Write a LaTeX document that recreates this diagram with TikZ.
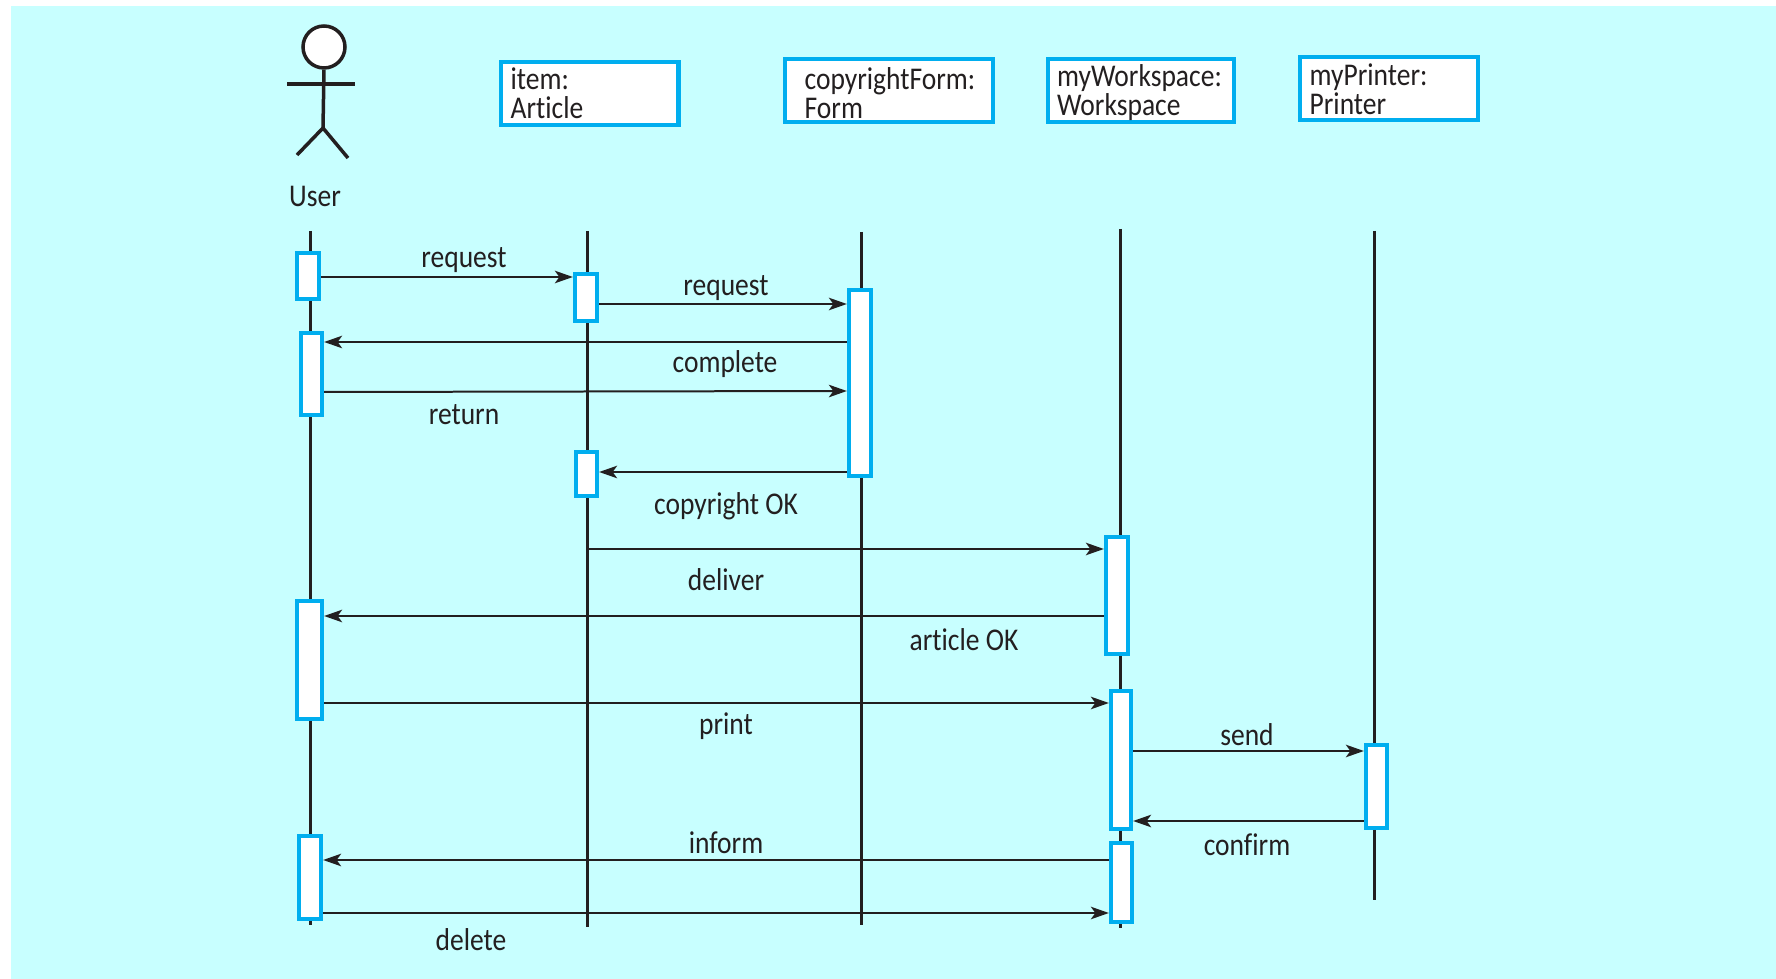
\documentclass[tikz,border=0pt]{standalone}
\usepackage{fontspec}
\setmainfont[FakeStretch=0.87,Ligatures=NoCommon]{Carlito}
\usepackage{xcolor}
\usetikzlibrary{arrows.meta}
\usetikzlibrary{fit}
\definecolor{panelcyan}{HTML}{C8FFFF}
\definecolor{boxblue}{HTML}{00AEEF}
\definecolor{inkblack}{HTML}{231F20}
\tikzset{
  objbox/.style={draw=boxblue,fill=white,line width=0.085cm,anchor=north west,align=left,inner ysep=0pt,minimum height=1.26cm,text=inkblack,font=\fontsize{18}{16.5}\selectfont},
  act/.style={draw=boxblue,fill=white,line width=0.085cm,inner sep=-0.02cm},
  lifeline/.style={draw=inkblack,line width=0.06cm},
  msg/.style={draw=inkblack,line width=0.04cm,-{Stealth[length=0.36cm,width=0.25cm,inset=0.09cm]}},
  lbl/.style={text=inkblack,font=\fontsize{18}{20}\selectfont,inner sep=0pt},
  stick/.style={draw=inkblack,line width=0.07cm}
}
\begin{document}
\begin{tikzpicture}[x=0.02cm,y=-0.02cm]
\useasboundingbox (0,0) rectangle (1776,979);
\fill[white] (0,0) rectangle (1776,979);
\fill[panelcyan] (11,6) rectangle (1776,979);
% actor
\node[stick,circle,fill=white,minimum size=0.84cm,inner sep=0pt] (head) at (324,47) {};
\draw[stick] (head.south) -- (323,128);
\draw[stick,line width=0.09cm] (287,84) -- (355,84);
\draw[stick] (297,155) -- (323,128) -- (348,158);
\node[lbl] (user) at (315,196) {User};
% object boxes
\node[objbox,text width=3.17cm,inner xsep=0.19cm] (item) at (499,60) {item:\\Article};
\node[objbox,text width=3.38cm,inner xsep=0.39cm] (form) at (783,57) {\rule{0pt}{15.4pt}copyrightForm:\\Form};
\node[objbox,text width=3.36cm,inner xsep=0.18cm] (workspace) at (1046,57) {\rule{0pt}{14.6pt}myWorkspace:\\Workspace};
\node[objbox,text width=3.18cm,inner xsep=0.19cm] (printer) at (1298,55) {\rule{0pt}{13.3pt}myPrinter:\\Printer};
% lifelines
\foreach \nm/\xx/\ya/\yb in {u/310/231/925,i/587/231/927,f/861/232/925,w/1120/229/928,p/1374/231/900} {
  \coordinate (\nm top) at (\xx,\ya);
  \coordinate (\nm bot) at (\xx,\yb);
  \draw[lifeline] (\nm top) -- (\nm bot);
}
% activations
\node[act,fit={(296,252) (320,300)}] (ua) {};
\node[act,fit={(574,273) (598,322)}] (ia) {};
\node[act,fit={(848,289) (872,477)}] (fa) {};
\node[act,fit={(300,332) (323,416)}] (ub) {};
\node[act,fit={(575,451) (598,497)}] (ib) {};
\node[act,fit={(1105,536) (1129,655)}] (wa) {};
\node[act,fit={(296,600) (323,720)}] (uc) {};
\node[act,fit={(1110,690) (1132,830)}] (wb) {};
\node[act,fit={(1365,744) (1388,829)}] (pa) {};
\node[act,fit={(298,835) (322,920)}] (ud) {};
\node[act,fit={(1110,842) (1133,923)}] (wc) {};
% messages
\draw[msg] (ua.east |- 0,277) -- (ia.west |- 0,277);
\draw[msg] (ia.east |- 0,304) -- (fa.west |- 0,304);
\draw[msg] (fa.west |- 0,342) -- (ub.east |- 0,342);
\draw[msg] (ub.east |- 0,392) -- (fa.west |- 0,391);
\draw[msg] (fa.west |- 0,472) -- (ib.east |- 0,472);
\draw[msg] (itop |- 0,549) -- (wa.west |- 0,549);
\draw[msg] (wa.west |- 0,616) -- (uc.east |- 0,616);
\draw[msg] (uc.east |- 0,703) -- (wb.west |- 0,703);
\draw[msg] (wb.east |- 0,751) -- (pa.west |- 0,751);
\draw[msg] (pa.west |- 0,821) -- (wb.east |- 0,821);
\draw[msg] (wc.west |- 0,860) -- (ud.east |- 0,860);
\draw[msg] (ud.east |- 0,913) -- (wc.west |- 0,913);
% labels
\node[lbl] (req1) at (464,260) {request};
\node[lbl] (req2) at (726,288) {request};
\node[lbl] (complete) at (725,364) {complete};
\node[lbl] (return) at (464,415) {return};
\node[lbl] (copyok) at (726,506) {copyright OK};
\node[lbl] (deliver) at (726,580) {deliver};
\node[lbl] (articleok) at (964,640) {article OK};
\node[lbl] (print) at (726,726) {print};
\node[lbl] (send) at (1247,735) {send};
\node[lbl] (confirm) at (1247,845) {confirm};
\node[lbl] (inform) at (726,843) {inform};
\node[lbl] (delete) at (471,940) {delete};
\end{tikzpicture}
\end{document}
